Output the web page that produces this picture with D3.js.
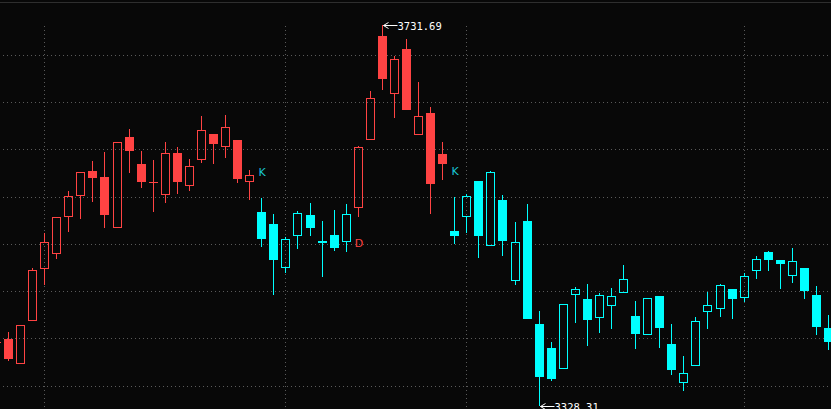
<!DOCTYPE html>
<html>
<head>
<meta charset="utf-8">
<script src="https://cdn.jsdelivr.net/npm/d3@7"></script>
<style>
html,body{margin:0;padding:0;background:#080808;overflow:hidden;}
svg{display:block;}
</style>
</head>
<body>
<svg id="chart" width="831" height="409"></svg>
<script>
// candle index (first one is cut off at the left edge)
const candleIndex = d3.range(-1, 69);
const openValues = [3396.5,3399.25,3373.84,3419.36,3474.42,3490.30,3529.47,3551.70,3577.11,3570.76,
3517.82,3613.11,3584.53,3565.8,3552.76,3596.17,3562.29,3589.82,3616.29,3603.58,
3609.93,3566.53,3533.71,3521.00,3475.47,3509.35,3530.53,3503.00,3509.35,3503.00,
3539.00,3610.99,3720.04,3659.70,3706.28,3616.29,3638.52,3595.11,3513.59,3529.47,
3566.53,3498.77,3546.41,3461.71,3524.18,3415.13,3389.72,3368.54,3446.89,3441.60,
3422.54,3435.24,3449.01,3423.60,3404.54,3444.77,3393.95,3353.72,3371.72,3428.89,
3432.07,3452.18,3443.71,3472.30,3491.36,3482.89,3467.00,3474.42,3445.83,3410.89];
const closeValues = [3396.0,3378.07,3414.07,3472.30,3501.94,3528.41,3550.65,3576.06,3569.70,3530.53,
3607.82,3598.29,3565.47,3565.3,3596.17,3565.47,3582.41,3620.52,3605.70,3623.70,
3568.64,3572.88,3505.12,3482.89,3505.12,3532.65,3516.77,3500.88,3495.59,3531.59,
3602.52,3654.40,3674.52,3695.69,3641.70,3635.34,3563.35,3584.53,3508.30,3550.65,
3508.30,3576.06,3503.00,3501.94,3420.42,3359.01,3356.90,3436.30,3452.18,3419.36,
3445.83,3444.77,3462.77,3404.54,3442.65,3410.89,3366.42,3363.25,3418.30,3435.24,
3456.42,3441.60,3465.95,3483.94,3482.89,3478.65,3481.83,3450.07,3411.95,3396.07];
const highValues = [3397.0,3406.66,3414.5,3474.42,3511.47,3528.6,3555.94,3576.2,3587.70,3597.23,
3608.2,3621.58,3598.29,3588.76,3607.82,3602.52,3589.82,3635.34,3616.5,3636.40,
3610.2,3578.17,3548.53,3531.59,3507.24,3534.76,3543.23,3524.18,3535.82,3542.18,
3603.58,3661.81,3731.69,3698.87,3716.87,3671.34,3644.87,3607.82,3549.59,3552.76,
3566.8,3577.11,3551.70,3523.12,3542.18,3428.89,3396.07,3436.5,3454.30,3457.48,
3447.95,3453.24,3477.59,3439.48,3442.9,3445.0,3415.13,3381.25,3422.54,3449.01,
3457.48,3452.4,3469.12,3487.12,3492.41,3483.1,3495.59,3474.6,3455.36,3424.66];
const lowValues = [3395.5,3375.95,3373.5,3419.0,3456.42,3483.94,3512.53,3526.29,3544.29,3516.77,
3517.5,3575.00,3559.12,3533.71,3543.23,3552.76,3555.94,3585.58,3584.53,3590.88,
3564.41,3546.41,3496.65,3445.83,3469.12,3494.53,3508.30,3464.89,3492.41,3491.36,
3528.41,3610.8,3662.87,3633.23,3641.5,3616.0,3531.59,3567.59,3499.83,3511.47,
3485.00,3497.71,3487.12,3456.42,3420.2,3328.31,3354.78,3368.3,3416.19,3391.83,
3405.60,3409.83,3448.8,3388.66,3403.48,3389.72,3361.13,3344.19,3371.5,3409.83,
3422.54,3420.42,3438.42,3462.77,3471.24,3452.18,3458.54,3441.60,3403.48,3387.60];
// trend signals: K switches to the down (cyan) colour, D back to the up (red) colour
const signalIndex = [21, 29, 37];
const signalLabel = ["K", "D", "K"];
// horizontal grid prices and vertical grid (period boundary) candles
const gridPrices = [3350,3400,3450,3500,3550,3600,3650,3700];
const gridCandles = [3, 23, 38, 61];

const W = 831, H = 409;
const RED = "#ff4343", CYAN = "#00ffff";
const svg = d3.select("#chart");
svg.append("rect").attr("width", W).attr("height", H).attr("fill", "#080808");

const data = candleIndex.map((i, k) => ({i, o: openValues[k], c: closeValues[k], h: highValues[k], l: lowValues[k]}));
// assign trend colour
let col = RED;
data.forEach(d => {
  const s = signalIndex.indexOf(d.i);
  if (s >= 0) col = signalLabel[s] === "K" ? CYAN : RED;
  d.color = col;
});

const step = 12.06;
const x = d3.scaleBand().domain(candleIndex).range([8 - 1.5 * step, 8 - 1.5 * step + candleIndex.length * step]).paddingInner(0);
const cx = i => Math.round(x(i) + x.bandwidth() / 2);
const y = d3.scaleLinear().domain([d3.min(lowValues), d3.max(highValues)]).range([406, 25]);

// top border line
svg.append("line").attr("x1", 0).attr("x2", W).attr("y1", 2.5).attr("y2", 2.5)
  .attr("stroke", "#2e2e2e").attr("stroke-width", 1);

// grid
const g = svg.append("g");
g.selectAll(".hg").data(gridPrices).join("line")
  .attr("x1", 3).attr("x2", W).attr("y1", d => Math.round(y(d)) + 0.5).attr("y2", d => Math.round(y(d)) + 0.5)
  .attr("stroke", "#5a5a5a").attr("stroke-dasharray", "1,3");
g.selectAll(".vg").data(gridCandles).join("line")
  .attr("x1", d => cx(d) + 0.5).attr("x2", d => cx(d) + 0.5).attr("y1", 26).attr("y2", H)
  .attr("stroke", "#5a5a5a").attr("stroke-dasharray", "1,3");

// candles
const cg = svg.append("g").attr("shape-rendering", "crispEdges");
data.forEach(d => {
  const xc = cx(d.i) + 0.5;
  const top = Math.round(y(Math.max(d.o, d.c)));
  const bot = Math.round(y(Math.min(d.o, d.c)));
  const hy = Math.round(y(d.h)), ly = Math.round(y(d.l));
  const hollow = d.c >= d.o;
  if (hollow) {
    if (hy < top) cg.append("line").attr("x1", xc).attr("x2", xc).attr("y1", hy).attr("y2", top).attr("stroke", d.color);
    if (ly > bot) cg.append("line").attr("x1", xc).attr("x2", xc).attr("y1", bot).attr("y2", ly).attr("stroke", d.color);
    cg.append("rect").attr("x", cx(d.i) - 4 + 0.5).attr("y", top + 0.5)
      .attr("width", 8).attr("height", Math.max(0, bot - top))
      .attr("fill", "none").attr("stroke", d.color).attr("stroke-width", 1);
  } else {
    cg.append("line").attr("x1", xc).attr("x2", xc).attr("y1", hy).attr("y2", ly).attr("stroke", d.color);
    cg.append("rect").attr("x", cx(d.i) - 4).attr("y", top)
      .attr("width", 9).attr("height", Math.max(1, bot - top)).attr("fill", d.color);
  }
});

// signal labels
signalIndex.forEach((si, k) => {
  const d = data.find(e => e.i === si);
  const isK = signalLabel[k] === "K";
  svg.append("text").attr("x", cx(si) + 1).attr("y", isK ? y(d.h) - 22 : y(d.l) + 30)
    .attr("text-anchor", "middle").attr("font-family", "DejaVu Sans, sans-serif").attr("font-size", 11)
    .attr("fill", isK ? "#19c6d6" : RED).text(signalLabel[k]);
});

// max / min annotations
function annot(d, price) {
  const tx = cx(d.i) + 1.5, ty = Math.round(y(price)) + 0.5;
  const a = svg.append("g").attr("stroke", "#ffffff").attr("fill", "none").attr("stroke-width", 1);
  a.append("line").attr("x1", tx).attr("x2", tx + 14).attr("y1", ty).attr("y2", ty);
  a.append("polyline").attr("points", `${tx + 5},${ty - 3} ${tx},${ty} ${tx + 5},${ty + 3}`);
  svg.append("text").attr("x", tx + 14).attr("y", ty + 4)
    .attr("font-family", "DejaVu Sans Mono, monospace").attr("font-size", 10.5)
    .attr("fill", "#ffffff").text(price.toFixed(2));
}
const maxD = data.reduce((a, b) => b.h > a.h ? b : a);
const minD = data.reduce((a, b) => b.l < a.l ? b : a);
annot(maxD, maxD.h);
annot(minD, minD.l);
</script>
</body>
</html>
